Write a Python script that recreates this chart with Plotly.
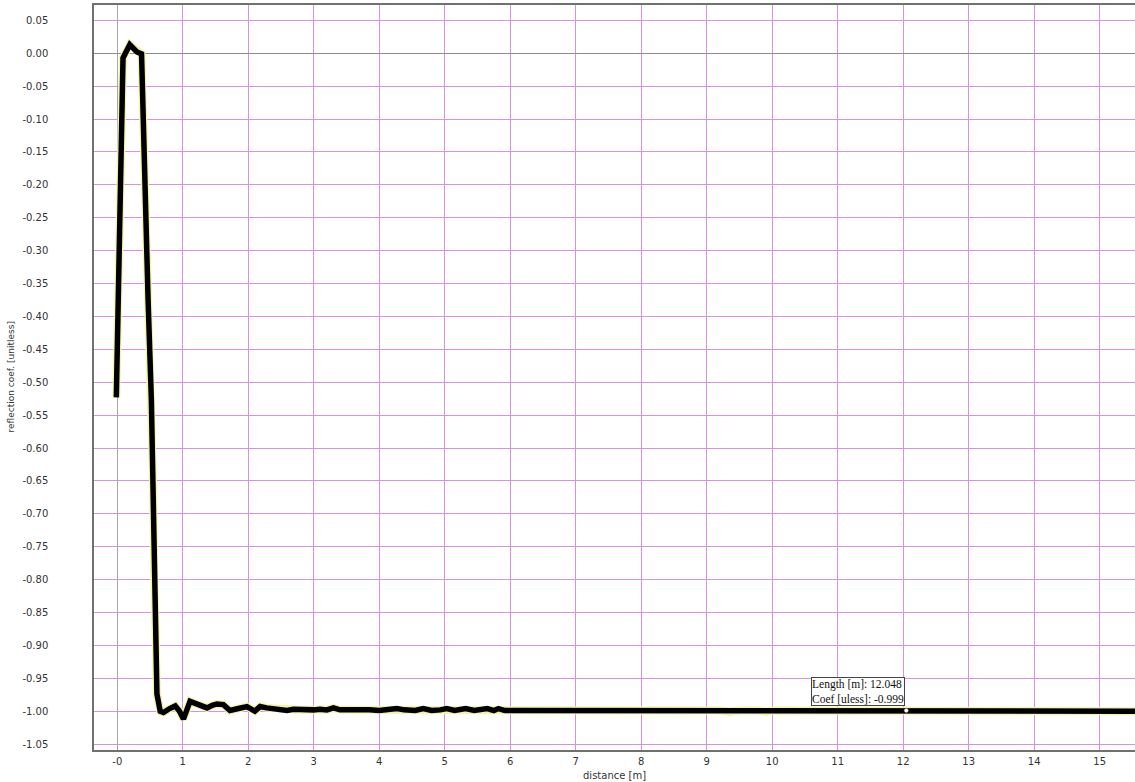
import plotly.graph_objects as go

# Reflection coefficient trace vs. distance
distance_m = [
    -0.015, -0.005, 0.015, 0.037, 0.056, 0.072, 0.087, 0.19, 0.30, 0.37,
    0.377, 0.40, 0.43, 0.47, 0.52, 0.545, 0.56, 0.575, 0.59, 0.605,
    0.655, 0.705, 0.80, 0.885, 0.95, 1.01, 1.11, 1.20, 1.265, 1.37,
    1.45, 1.52, 1.62, 1.72, 1.85, 1.98, 2.10, 2.18, 2.28, 2.38,
    2.50, 2.59, 2.69, 2.80, 2.89, 3.00, 3.09, 3.20, 3.30, 3.40,
    3.55, 3.68, 3.75, 3.85, 4.00, 4.15, 4.27, 4.38, 4.55, 4.67,
    4.80, 4.93, 5.03, 5.15, 5.32, 5.45, 5.55, 5.65, 5.75, 5.82,
    5.92, 6.50, 7.50, 8.50, 9.20, 9.35, 9.50, 9.80, 9.90, 10.00,
    10.50, 11.00, 11.25, 11.30, 11.45, 11.60, 11.75, 11.90, 12.048, 12.20,
    12.35, 12.50, 12.65, 12.80, 12.95, 13.10, 13.30, 13.45, 13.60, 14.00,
    14.40, 14.70, 14.80, 14.95, 15.10, 15.20, 15.30, 15.45, 15.60,
]
reflection_coef = [
    -0.523, -0.474, -0.375, -0.223, -0.132, -0.048, -0.007, 0.013, 0.002, -0.001,
    -0.033, -0.086, -0.223, -0.375, -0.527, -0.649, -0.770, -0.892, -0.953, -0.974,
    -1.000, -1.002, -0.996, -0.992, -1.000, -1.012, -0.985, -0.989, -0.990, -0.995,
    -0.991, -0.989, -0.990, -0.999, -0.996, -0.993, -1.000, -0.993, -0.995, -0.996,
    -0.997, -0.999, -0.997, -0.998, -0.999, -0.998, -0.997, -0.998, -0.995, -0.998,
    -0.998, -0.998, -0.996, -0.998, -0.999, -0.998, -0.996, -0.998, -0.999, -0.996,
    -0.999, -0.998, -0.996, -0.999, -0.996, -0.999, -0.998, -0.996, -0.999, -0.996,
    -0.999, -0.999, -0.999, -0.999, -0.999, -1.001, -0.999, -0.999, -1.001, -0.999,
    -0.999, -0.999, -0.999, -1.000, -0.999, -1.000, -0.999, -1.000, -0.999, -1.000,
    -0.999, -1.000, -0.999, -1.000, -0.999, -1.000, -0.999, -1.001, -1.000, -1.000,
    -1.000, -0.999, -1.000, -0.999, -1.000, -1.001, -1.000, -0.999, -1.000,
]

# Cursor readout
cursor_length = 12.048
cursor_coef = -0.999

# Axis ticks
x_tick_vals = list(range(0, 16))
x_tick_text = ["-0"] + [str(v) for v in range(1, 16)]
y_tick_vals = [0.05, 0.00, -0.05, -0.10, -0.15, -0.20, -0.25, -0.30, -0.35, -0.40,
               -0.45, -0.50, -0.55, -0.60, -0.65, -0.70, -0.75, -0.80, -0.85, -0.90,
               -0.95, -1.00, -1.05]
y_tick_text = ["0.05", "0.00", "-0.05", "-0.10", "-0.15", "-0.20", "-0.25", "-0.30",
               "-0.35", "-0.40", "-0.45", "-0.50", "-0.55", "-0.60", "-0.65", "-0.70",
               "-0.75", "-0.80", "-0.85", "-0.90", "-0.95", "-1.00", "-1.05"]

GRID = "#d98fe2"
TICK_FONT = dict(family="DejaVu Sans", size=10, color="#333333")

fig = go.Figure()

# pale halo under the trace
fig.add_trace(go.Scatter(
    x=distance_m, y=reflection_coef, mode="lines",
    line=dict(color="#f4f4a6", width=8), hoverinfo="skip", showlegend=False,
))
fig.add_trace(go.Scatter(
    x=distance_m, y=reflection_coef, mode="lines",
    line=dict(color="#000000", width=5.5), showlegend=False,
))
# cursor point
fig.add_trace(go.Scatter(
    x=[cursor_length], y=[cursor_coef], mode="markers",
    marker=dict(color="white", size=4, line=dict(color="#999999", width=0.5)),
    showlegend=False,
))

fig.add_annotation(
    x=cursor_length, y=cursor_coef, xref="x", yref="y",
    text=f"Length [m]: {cursor_length:.3f}<br>Coef [uless]: {cursor_coef:.3f}",
    showarrow=False, xanchor="right", yanchor="bottom", align="left",
    xshift=-1, yshift=5,
    font=dict(family="Liberation Serif", size=11.5, color="#111111"),
    bgcolor="white", bordercolor="#444444", borderwidth=1, borderpad=0,
)

# axis titles
fig.add_annotation(
    text="reflection coef. [unitless]", xref="paper", yref="paper",
    x=0, y=0.5, xshift=-84, textangle=-90, showarrow=False,
    xanchor="center", yanchor="middle",
    font=dict(family="DejaVu Sans", size=9, color="#333333"),
)
fig.add_annotation(
    text="distance [m]", xref="paper", yref="paper",
    x=0.5, y=0, yshift=-25, showarrow=False,
    xanchor="center", yanchor="middle",
    font=dict(family="DejaVu Sans", size=10, color="#333333"),
)

fig.update_xaxes(
    range=[-0.356, 15.54], tickvals=x_tick_vals, ticktext=x_tick_text,
    showgrid=True, gridcolor=GRID, gridwidth=1,
    zeroline=True, zerolinecolor="#a8a8a8", zerolinewidth=1,
    showline=True, linecolor="#707070", linewidth=1.5, mirror=True,
    ticks="", tickfont=TICK_FONT, ticklabelstandoff=1,
)
fig.update_yaxes(
    range=[-1.059, 0.0734], tickvals=y_tick_vals, ticktext=y_tick_text,
    showgrid=True, gridcolor=GRID, gridwidth=1,
    zeroline=True, zerolinecolor="#8c8c8c", zerolinewidth=1,
    showline=True, linecolor="#707070", linewidth=1.5,
    ticks="", tickfont=TICK_FONT, ticklabelstandoff=42,
)

fig.update_layout(
    width=1135, height=782,
    margin=dict(l=94, r=0, t=5, b=32),
    paper_bgcolor="white", plot_bgcolor="white",
    showlegend=False,
)

fig.write_html("out.html")
